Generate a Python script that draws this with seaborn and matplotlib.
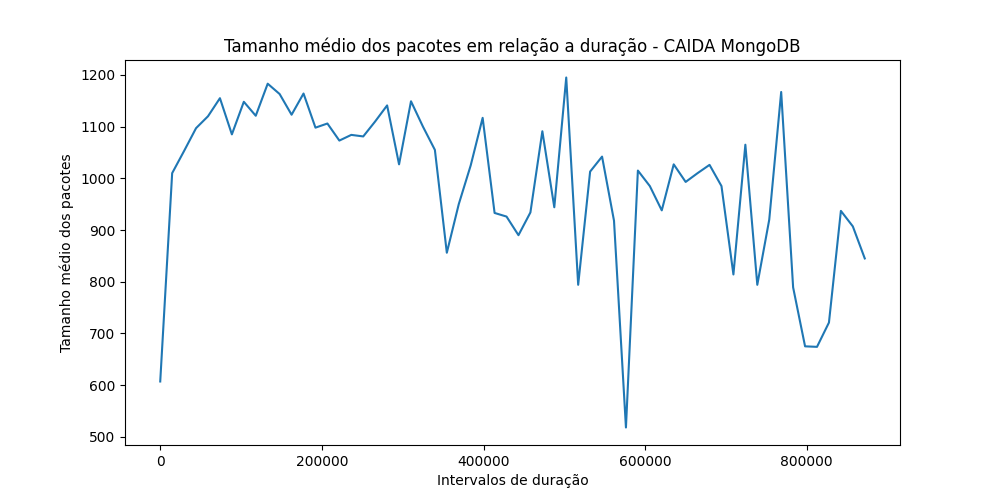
import numpy as np
import pandas as pd
import matplotlib
matplotlib.use("Agg")
import matplotlib.pyplot as plt
import seaborn as sns

step = 14775
tamanho = [607, 1010, 1053, 1097, 1120, 1155, 1085, 1148, 1121, 1183,
           1163, 1123, 1164, 1098, 1106, 1073, 1084, 1081, 1110, 1141,
           1027, 1149, 1100, 1055, 856, 950, 1025, 1117, 933, 926,
           890, 934, 1091, 944, 1195, 794, 1013, 1042, 918, 518,
           1015, 985, 938, 1027, 993, 1010, 1026, 985, 814, 1065,
           794, 920, 1167, 789, 675, 674, 721, 937, 907, 845]
intervalos = [i * step for i in range(len(tamanho))]

df = pd.DataFrame({"intervalo": intervalos, "tamanho": tamanho})

plt.figure(figsize=(10, 5), dpi=100)
sns.lineplot(data=df, x="intervalo", y="tamanho")
plt.title("Tamanho médio dos pacotes em relação a duração - CAIDA MongoDB")
plt.xlabel("Intervalos de duração")
plt.ylabel("Tamanho médio dos pacotes")
plt.savefig("out.png")
